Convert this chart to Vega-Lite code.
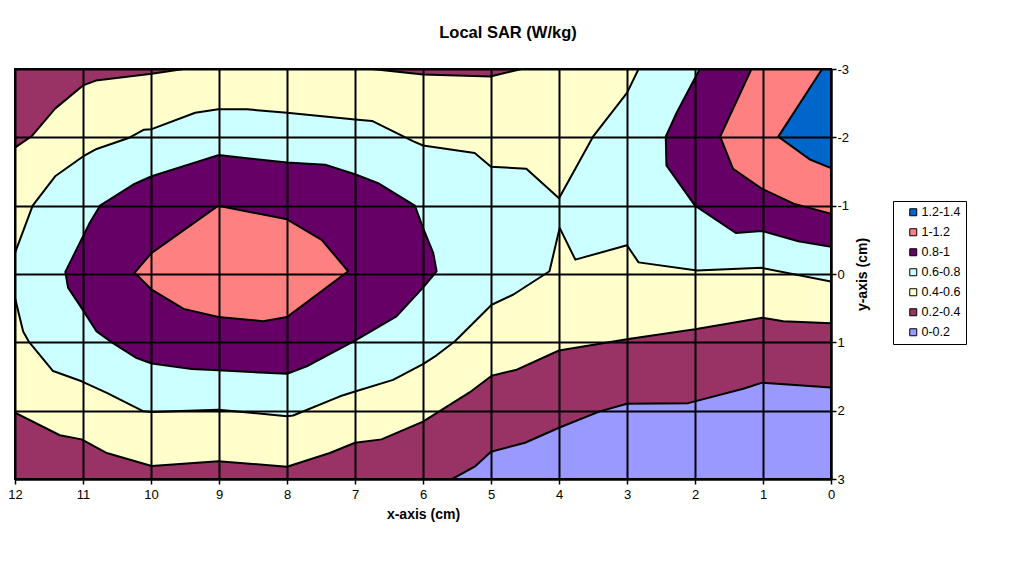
{
  "$schema": "https://vega.github.io/schema/vega-lite/v6.json",
  "width": 816,
  "height": 410,
  "autosize": {"type": "none"},
  "padding": {"left": 15, "top": 69, "right": 182, "bottom": 83},
  "background": "white",
  "title": {
    "text": "Local SAR (W/kg)",
    "font": "Liberation Sans",
    "fontSize": 16.5,
    "fontWeight": "bold",
    "color": "black",
    "anchor": "middle",
    "dx": 85,
    "offset": 22
  },
  "data": {
    "values": [
      {"b":"0.2-0.4","p":"bg","i":0,"x":12,"y":-3},
      {"b":"0.2-0.4","p":"bg","i":1,"x":0,"y":-3},
      {"b":"0.2-0.4","p":"bg","i":2,"x":0,"y":3},
      {"b":"0.2-0.4","p":"bg","i":3,"x":12,"y":3},
      {"b":"0.2-0.4","p":"bg","i":4,"x":12,"y":-3},

      {"b":"0-0.2","p":"lav","i":0,"x":5.57,"y":3},
      {"b":"0-0.2","p":"lav","i":1,"x":5.24,"y":2.82},
      {"b":"0-0.2","p":"lav","i":2,"x":5.0,"y":2.6},
      {"b":"0-0.2","p":"lav","i":3,"x":4.5,"y":2.47},
      {"b":"0-0.2","p":"lav","i":4,"x":4.0,"y":2.25},
      {"b":"0-0.2","p":"lav","i":5,"x":3.4,"y":2.01},
      {"b":"0-0.2","p":"lav","i":6,"x":3.0,"y":1.9},
      {"b":"0-0.2","p":"lav","i":7,"x":2.1,"y":1.89},
      {"b":"0-0.2","p":"lav","i":8,"x":1.29,"y":1.68},
      {"b":"0-0.2","p":"lav","i":9,"x":1.01,"y":1.59},
      {"b":"0-0.2","p":"lav","i":10,"x":0,"y":1.66},
      {"b":"0-0.2","p":"lav","i":11,"x":0,"y":3},
      {"b":"0-0.2","p":"lav","i":12,"x":5.57,"y":3},

      {"b":"0.4-0.6","p":"yel","i":0,"x":12,"y":-1.85},
      {"b":"0.4-0.6","p":"yel","i":1,"x":11.75,"y":-2.02},
      {"b":"0.4-0.6","p":"yel","i":2,"x":11.41,"y":-2.42},
      {"b":"0.4-0.6","p":"yel","i":3,"x":11.0,"y":-2.76},
      {"b":"0.4-0.6","p":"yel","i":4,"x":10.81,"y":-2.83},
      {"b":"0.4-0.6","p":"yel","i":5,"x":9.99,"y":-2.93},
      {"b":"0.4-0.6","p":"yel","i":6,"x":9.52,"y":-3},
      {"b":"0.4-0.6","p":"yel","i":7,"x":6.75,"y":-3},
      {"b":"0.4-0.6","p":"yel","i":8,"x":6.0,"y":-2.92},
      {"b":"0.4-0.6","p":"yel","i":9,"x":5.01,"y":-2.89},
      {"b":"0.4-0.6","p":"yel","i":10,"x":4.55,"y":-3},
      {"b":"0.4-0.6","p":"yel","i":11,"x":0,"y":-3},
      {"b":"0.4-0.6","p":"yel","i":12,"x":0,"y":0.72},
      {"b":"0.4-0.6","p":"yel","i":13,"x":0.7,"y":0.69},
      {"b":"0.4-0.6","p":"yel","i":14,"x":1.01,"y":0.64},
      {"b":"0.4-0.6","p":"yel","i":15,"x":2.0,"y":0.81},
      {"b":"0.4-0.6","p":"yel","i":16,"x":2.98,"y":0.95},
      {"b":"0.4-0.6","p":"yel","i":17,"x":4.0,"y":1.12},
      {"b":"0.4-0.6","p":"yel","i":18,"x":4.62,"y":1.4},
      {"b":"0.4-0.6","p":"yel","i":19,"x":4.99,"y":1.49},
      {"b":"0.4-0.6","p":"yel","i":20,"x":5.31,"y":1.73},
      {"b":"0.4-0.6","p":"yel","i":21,"x":6.0,"y":2.16},
      {"b":"0.4-0.6","p":"yel","i":22,"x":6.61,"y":2.42},
      {"b":"0.4-0.6","p":"yel","i":23,"x":7.0,"y":2.47},
      {"b":"0.4-0.6","p":"yel","i":24,"x":7.37,"y":2.62},
      {"b":"0.4-0.6","p":"yel","i":25,"x":8.0,"y":2.82},
      {"b":"0.4-0.6","p":"yel","i":26,"x":9.01,"y":2.74},
      {"b":"0.4-0.6","p":"yel","i":27,"x":9.99,"y":2.81},
      {"b":"0.4-0.6","p":"yel","i":28,"x":10.65,"y":2.62},
      {"b":"0.4-0.6","p":"yel","i":29,"x":11.02,"y":2.42},
      {"b":"0.4-0.6","p":"yel","i":30,"x":11.34,"y":2.36},
      {"b":"0.4-0.6","p":"yel","i":31,"x":12,"y":2.03},
      {"b":"0.4-0.6","p":"yel","i":32,"x":12,"y":-1.85},

      {"b":"0.6-0.8","p":"cy","i":0,"x":12,"y":-0.31},
      {"b":"0.6-0.8","p":"cy","i":1,"x":11.74,"y":-1.0},
      {"b":"0.6-0.8","p":"cy","i":2,"x":11.41,"y":-1.43},
      {"b":"0.6-0.8","p":"cy","i":3,"x":11.0,"y":-1.72},
      {"b":"0.6-0.8","p":"cy","i":4,"x":10.8,"y":-1.83},
      {"b":"0.6-0.8","p":"cy","i":5,"x":10.33,"y":-1.99},
      {"b":"0.6-0.8","p":"cy","i":6,"x":10.11,"y":-2.11},
      {"b":"0.6-0.8","p":"cy","i":7,"x":9.99,"y":-2.12},
      {"b":"0.6-0.8","p":"cy","i":8,"x":9.35,"y":-2.36},
      {"b":"0.6-0.8","p":"cy","i":9,"x":9.01,"y":-2.41},
      {"b":"0.6-0.8","p":"cy","i":10,"x":8.59,"y":-2.41},
      {"b":"0.6-0.8","p":"cy","i":11,"x":8.0,"y":-2.36},
      {"b":"0.6-0.8","p":"cy","i":12,"x":7.0,"y":-2.26},
      {"b":"0.6-0.8","p":"cy","i":13,"x":6.75,"y":-2.24},
      {"b":"0.6-0.8","p":"cy","i":14,"x":6.14,"y":-1.94},
      {"b":"0.6-0.8","p":"cy","i":15,"x":6.0,"y":-1.88},
      {"b":"0.6-0.8","p":"cy","i":16,"x":5.24,"y":-1.77},
      {"b":"0.6-0.8","p":"cy","i":17,"x":5.0,"y":-1.57},
      {"b":"0.6-0.8","p":"cy","i":18,"x":4.48,"y":-1.54},
      {"b":"0.6-0.8","p":"cy","i":19,"x":4.0,"y":-1.11},
      {"b":"0.6-0.8","p":"cy","i":20,"x":3.5,"y":-2.01},
      {"b":"0.6-0.8","p":"cy","i":21,"x":3.0,"y":-2.65},
      {"b":"0.6-0.8","p":"cy","i":22,"x":2.83,"y":-3},
      {"b":"0.6-0.8","p":"cy","i":23,"x":0,"y":-3},
      {"b":"0.6-0.8","p":"cy","i":24,"x":0,"y":0.11},
      {"b":"0.6-0.8","p":"cy","i":25,"x":1.02,"y":-0.09},
      {"b":"0.6-0.8","p":"cy","i":26,"x":1.97,"y":-0.05},
      {"b":"0.6-0.8","p":"cy","i":27,"x":2.83,"y":-0.17},
      {"b":"0.6-0.8","p":"cy","i":28,"x":3.0,"y":-0.42},
      {"b":"0.6-0.8","p":"cy","i":29,"x":3.76,"y":-0.21},
      {"b":"0.6-0.8","p":"cy","i":30,"x":3.99,"y":-0.675},
      {"b":"0.6-0.8","p":"cy","i":31,"x":4.14,"y":-0.04},
      {"b":"0.6-0.8","p":"cy","i":32,"x":4.67,"y":0.3},
      {"b":"0.6-0.8","p":"cy","i":33,"x":4.99,"y":0.45},
      {"b":"0.6-0.8","p":"cy","i":34,"x":5.53,"y":0.985},
      {"b":"0.6-0.8","p":"cy","i":35,"x":5.8,"y":1.19},
      {"b":"0.6-0.8","p":"cy","i":36,"x":6.0,"y":1.32},
      {"b":"0.6-0.8","p":"cy","i":37,"x":6.44,"y":1.55},
      {"b":"0.6-0.8","p":"cy","i":38,"x":7.0,"y":1.72},
      {"b":"0.6-0.8","p":"cy","i":39,"x":7.22,"y":1.79},
      {"b":"0.6-0.8","p":"cy","i":40,"x":7.91,"y":2.07},
      {"b":"0.6-0.8","p":"cy","i":41,"x":8.0,"y":2.08},
      {"b":"0.6-0.8","p":"cy","i":42,"x":9.01,"y":1.985},
      {"b":"0.6-0.8","p":"cy","i":43,"x":9.99,"y":2.02},
      {"b":"0.6-0.8","p":"cy","i":44,"x":10.11,"y":2.01},
      {"b":"0.6-0.8","p":"cy","i":45,"x":10.65,"y":1.74},
      {"b":"0.6-0.8","p":"cy","i":46,"x":11.02,"y":1.57},
      {"b":"0.6-0.8","p":"cy","i":47,"x":11.44,"y":1.42},
      {"b":"0.6-0.8","p":"cy","i":48,"x":11.8,"y":0.985},
      {"b":"0.6-0.8","p":"cy","i":49,"x":11.88,"y":0.84},
      {"b":"0.6-0.8","p":"cy","i":50,"x":12,"y":0.35},
      {"b":"0.6-0.8","p":"cy","i":51,"x":12,"y":-0.31},

      {"b":"0.8-1","p":"pl","i":0,"x":9.01,"y":-1.74},
      {"b":"0.8-1","p":"pl","i":1,"x":9.99,"y":-1.43},
      {"b":"0.8-1","p":"pl","i":2,"x":10.26,"y":-1.31},
      {"b":"0.8-1","p":"pl","i":3,"x":10.75,"y":-1.0},
      {"b":"0.8-1","p":"pl","i":4,"x":10.9,"y":-0.75},
      {"b":"0.8-1","p":"pl","i":5,"x":11.26,"y":-0.03},
      {"b":"0.8-1","p":"pl","i":6,"x":11.22,"y":0.2},
      {"b":"0.8-1","p":"pl","i":7,"x":11.02,"y":0.5},
      {"b":"0.8-1","p":"pl","i":8,"x":10.8,"y":0.84},
      {"b":"0.8-1","p":"pl","i":9,"x":10.6,"y":0.985},
      {"b":"0.8-1","p":"pl","i":10,"x":10.21,"y":1.23},
      {"b":"0.8-1","p":"pl","i":11,"x":9.99,"y":1.31},
      {"b":"0.8-1","p":"pl","i":12,"x":9.4,"y":1.39},
      {"b":"0.8-1","p":"pl","i":13,"x":9.01,"y":1.41},
      {"b":"0.8-1","p":"pl","i":14,"x":8.0,"y":1.46},
      {"b":"0.8-1","p":"pl","i":15,"x":7.71,"y":1.35},
      {"b":"0.8-1","p":"pl","i":16,"x":7.0,"y":0.975},
      {"b":"0.8-1","p":"pl","i":17,"x":6.39,"y":0.62},
      {"b":"0.8-1","p":"pl","i":18,"x":6.0,"y":0.2},
      {"b":"0.8-1","p":"pl","i":19,"x":5.8,"y":-0.04},
      {"b":"0.8-1","p":"pl","i":20,"x":5.85,"y":-0.31},
      {"b":"0.8-1","p":"pl","i":21,"x":6.0,"y":-0.675},
      {"b":"0.8-1","p":"pl","i":22,"x":6.12,"y":-1.0},
      {"b":"0.8-1","p":"pl","i":23,"x":6.66,"y":-1.33},
      {"b":"0.8-1","p":"pl","i":24,"x":7.0,"y":-1.46},
      {"b":"0.8-1","p":"pl","i":25,"x":7.44,"y":-1.6},
      {"b":"0.8-1","p":"pl","i":26,"x":8.0,"y":-1.63},
      {"b":"0.8-1","p":"pl","i":27,"x":9.01,"y":-1.74},

      {"b":"0.8-1","p":"pr","i":0,"x":1.93,"y":-3},
      {"b":"0.8-1","p":"pr","i":1,"x":2.27,"y":-2.36},
      {"b":"0.8-1","p":"pr","i":2,"x":2.43,"y":-2.01},
      {"b":"0.8-1","p":"pr","i":3,"x":2.42,"y":-1.59},
      {"b":"0.8-1","p":"pr","i":4,"x":2.0,"y":-1.0},
      {"b":"0.8-1","p":"pr","i":5,"x":1.4,"y":-0.6},
      {"b":"0.8-1","p":"pr","i":6,"x":1.02,"y":-0.63},
      {"b":"0.8-1","p":"pr","i":7,"x":0.48,"y":-0.48},
      {"b":"0.8-1","p":"pr","i":8,"x":0,"y":-0.4},
      {"b":"0.8-1","p":"pr","i":9,"x":0,"y":-3},
      {"b":"0.8-1","p":"pr","i":10,"x":1.93,"y":-3},

      {"b":"1-1.2","p":"sl","i":0,"x":9.01,"y":-1.0},
      {"b":"1-1.2","p":"sl","i":1,"x":9.99,"y":-0.31},
      {"b":"1-1.2","p":"sl","i":2,"x":10.24,"y":-0.02},
      {"b":"1-1.2","p":"sl","i":3,"x":9.99,"y":0.23},
      {"b":"1-1.2","p":"sl","i":4,"x":9.52,"y":0.51},
      {"b":"1-1.2","p":"sl","i":5,"x":9.01,"y":0.63},
      {"b":"1-1.2","p":"sl","i":6,"x":8.35,"y":0.69},
      {"b":"1-1.2","p":"sl","i":7,"x":8.0,"y":0.63},
      {"b":"1-1.2","p":"sl","i":8,"x":7.1,"y":-0.04},
      {"b":"1-1.2","p":"sl","i":9,"x":7.49,"y":-0.5},
      {"b":"1-1.2","p":"sl","i":10,"x":8.0,"y":-0.8},
      {"b":"1-1.2","p":"sl","i":11,"x":9.01,"y":-1.0},

      {"b":"1-1.2","p":"sr","i":0,"x":1.17,"y":-3},
      {"b":"1-1.2","p":"sr","i":1,"x":1.63,"y":-2.01},
      {"b":"1-1.2","p":"sr","i":2,"x":1.44,"y":-1.54},
      {"b":"1-1.2","p":"sr","i":3,"x":1.02,"y":-1.25},
      {"b":"1-1.2","p":"sr","i":4,"x":0.55,"y":-1.03},
      {"b":"1-1.2","p":"sr","i":5,"x":0,"y":-0.88},
      {"b":"1-1.2","p":"sr","i":6,"x":0,"y":-3},
      {"b":"1-1.2","p":"sr","i":7,"x":1.17,"y":-3},

      {"b":"1.2-1.4","p":"bl","i":0,"x":0.13,"y":-3},
      {"b":"1.2-1.4","p":"bl","i":1,"x":0.775,"y":-2.01},
      {"b":"1.2-1.4","p":"bl","i":2,"x":0.31,"y":-1.675},
      {"b":"1.2-1.4","p":"bl","i":3,"x":0,"y":-1.55},
      {"b":"1.2-1.4","p":"bl","i":4,"x":0,"y":-3},
      {"b":"1.2-1.4","p":"bl","i":5,"x":0.13,"y":-3}
    ]
  },
  "encoding": {
    "x": {
      "field": "x", "type": "quantitative",
      "scale": {"domain": [0, 12], "reverse": true, "nice": false, "zero": false},
      "axis": {
        "values": [0,1,2,3,4,5,6,7,8,9,10,11,12],
        "grid": true, "gridColor": "black", "gridWidth": 2, "gridOpacity": 1,
        "domainColor": "black", "domainWidth": 2,
        "tickColor": "black", "tickWidth": 1.5, "tickSize": 5,
        "labelFont": "Liberation Sans", "labelFontSize": 13, "labelColor": "black",
        "labelPadding": 4, "labelFlush": false, "labelOverlap": false,
        "labelExpr": "'' + datum.value",
        "title": "x-axis (cm)", "titleFont": "Liberation Sans", "titleFontSize": 14,
        "titleFontWeight": "bold", "titleColor": "black", "titlePadding": 6,
        "zindex": 1
      }
    },
    "y": {
      "field": "y", "type": "quantitative",
      "scale": {"domain": [-3, 3], "reverse": true, "nice": false, "zero": false},
      "axis": {
        "orient": "right",
        "values": [-3,-2,-1,0,1,2,3],
        "grid": true, "gridColor": "black", "gridWidth": 2, "gridOpacity": 1,
        "domainColor": "black", "domainWidth": 2,
        "tickColor": "black", "tickWidth": 1.5, "tickSize": 5,
        "labelFont": "Liberation Sans", "labelFontSize": 13, "labelColor": "black",
        "labelPadding": 1, "labelFlush": false, "labelOverlap": false,
        "labelExpr": "'' + datum.value",
        "title": "y-axis (cm)", "titleFont": "Liberation Sans", "titleFontSize": 14,
        "titleFontWeight": "bold", "titleColor": "black", "titlePadding": 21,
        "titleAngle": 270,
        "zindex": 1
      }
    },
    "order": {"field": "i", "type": "quantitative"},
    "detail": {"field": "p", "type": "nominal"},
    "fill": {
      "field": "b", "type": "nominal",
      "scale": {
        "domain": ["1.2-1.4", "1-1.2", "0.8-1", "0.6-0.8", "0.4-0.6", "0.2-0.4", "0-0.2"],
        "range": ["#0066CC", "#FF8080", "#660066", "#CCFFFF", "#FFFFCC", "#993366", "#9999FF"]
      },
      "legend": {
        "title": null,
        "orient": "none",
        "legendX": 878,
        "legendY": 132,
        "symbolType": "square",
        "symbolSize": 49,
        "symbolOffset": 9,
        "symbolStrokeColor": "black",
        "symbolStrokeWidth": 1,
        "labelFont": "Liberation Sans",
        "labelFontSize": 12.5,
        "labelColor": "black",
        "labelOffset": 2,
        "rowPadding": 7,
        "padding": 5,
        "strokeColor": "black",
        "fillColor": "white"
      }
    }
  },
  "layer": [
    {"transform": [{"filter": {"field": "b", "equal": "0.2-0.4"}}], "mark": {"type": "line", "stroke": "black", "strokeWidth": 2, "clip": true, "strokeJoin": "round"}},
    {"transform": [{"filter": {"field": "b", "equal": "0-0.2"}}], "mark": {"type": "line", "stroke": "black", "strokeWidth": 2, "clip": true, "strokeJoin": "round"}},
    {"transform": [{"filter": {"field": "b", "equal": "0.4-0.6"}}], "mark": {"type": "line", "stroke": "black", "strokeWidth": 2, "clip": true, "strokeJoin": "round"}},
    {"transform": [{"filter": {"field": "b", "equal": "0.6-0.8"}}], "mark": {"type": "line", "stroke": "black", "strokeWidth": 2, "clip": true, "strokeJoin": "round"}},
    {"transform": [{"filter": {"field": "b", "equal": "0.8-1"}}], "mark": {"type": "line", "stroke": "black", "strokeWidth": 2, "clip": true, "strokeJoin": "round"}},
    {"transform": [{"filter": {"field": "b", "equal": "1-1.2"}}], "mark": {"type": "line", "stroke": "black", "strokeWidth": 2, "clip": true, "strokeJoin": "round"}},
    {"transform": [{"filter": {"field": "b", "equal": "1.2-1.4"}}], "mark": {"type": "line", "stroke": "black", "strokeWidth": 2, "clip": true, "strokeJoin": "round"}}
  ],
  "config": {
    "view": {"stroke": "black", "strokeWidth": 2}
  }
}
